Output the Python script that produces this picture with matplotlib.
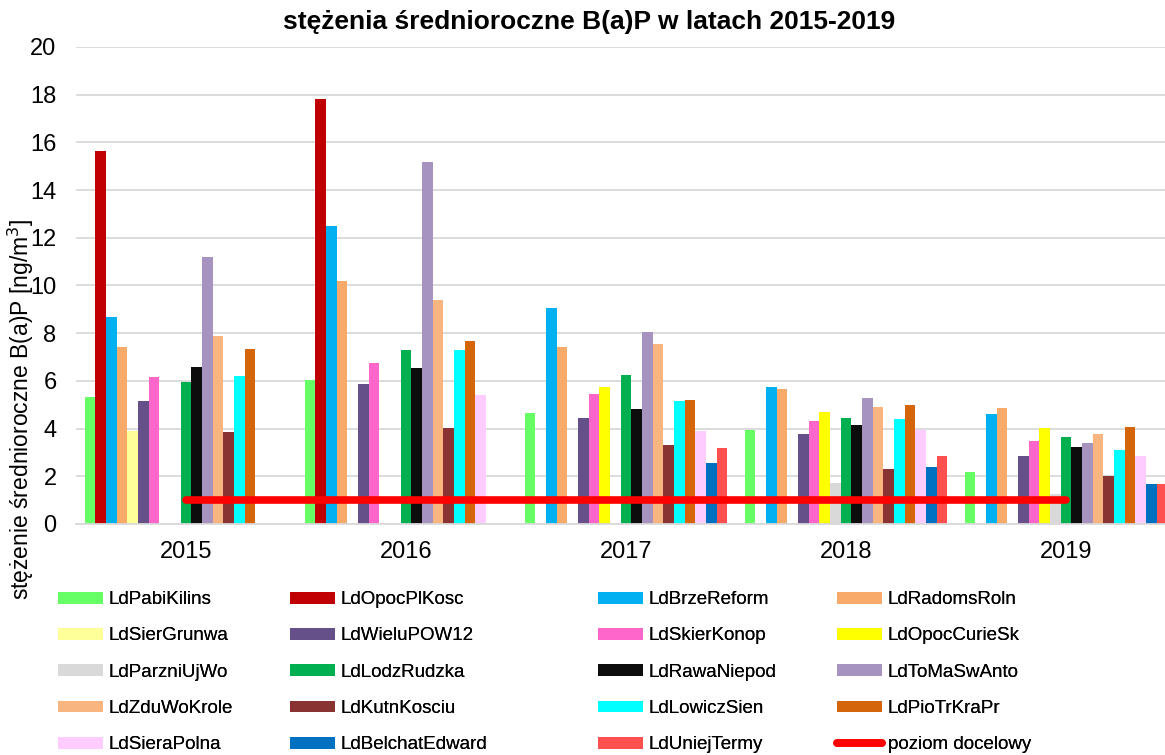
"""Średnioroczne stężenia B(a)P na stacjach województwa łódzkiego, 2015-2019."""

import numpy as np
import matplotlib
matplotlib.use("Agg")
import matplotlib.pyplot as plt
from matplotlib.patches import Patch
from matplotlib.lines import Line2D

nan = np.nan

years = ["2015", "2016", "2017", "2018", "2019"]

stations = [
    "LdPabiKilins", "LdOpocPlKosc", "LdBrzeReform", "LdRadomsRoln",
    "LdSierGrunwa", "LdWieluPOW12", "LdSkierKonop", "LdOpocCurieSk",
    "LdParzniUjWo", "LdLodzRudzka", "LdRawaNiepod", "LdToMaSwAnto",
    "LdZduWoKrole", "LdKutnKosciu", "LdLowiczSien", "LdPioTrKraPr",
    "LdSieraPolna", "LdBelchatEdward", "LdUniejTermy",
]

pabi_kilins = [5.32, 6.04, 4.64, 3.94, 2.17]
opoc_pl_kosc = [15.63, 17.8, nan, nan, nan]
brze_reform = [8.68, 12.51, 9.06, 5.73, 4.60]
radoms_roln = [7.41, 10.17, 7.42, 5.65, 4.86]
sier_grunwa = [3.91, nan, nan, nan, nan]
wielu_pow12 = [5.16, 5.86, 4.46, 3.76, 2.84]
skier_konop = [6.16, 6.74, 5.45, 4.31, 3.48]
opoc_curie_sk = [nan, nan, 5.74, 4.71, 4.01]
parzni_uj_wo = [nan, nan, nan, 1.73, 1.26]
lodz_rudzka = [5.95, 7.28, 6.26, 4.44, 3.65]
rawa_niepod = [6.58, 6.55, 4.82, 4.14, 3.23]
toma_sw_anto = [11.2, 15.19, 8.04, 5.27, 3.41]
zdu_wo_krole = [7.88, 9.39, 7.55, 4.89, 3.77]
kutn_kosciu = [3.84, 4.01, 3.30, 2.32, 2.03]
lowicz_sien = [6.22, 7.31, 5.16, 4.39, 3.10]
pio_tr_kra_pr = [7.35, 7.67, 5.20, 4.99, 4.05]
siera_polna = [nan, 5.41, 3.91, 3.95, 2.86]
belchat_edward = [nan, nan, 2.56, 2.39, 1.68]
uniej_termy = [nan, nan, 3.19, 2.85, 1.68]

target_label = "poziom docelowy"
target = [1, 1, 1, 1, 1]

values = [
    pabi_kilins, opoc_pl_kosc, brze_reform, radoms_roln, sier_grunwa,
    wielu_pow12, skier_konop, opoc_curie_sk, parzni_uj_wo, lodz_rudzka,
    rawa_niepod, toma_sw_anto, zdu_wo_krole, kutn_kosciu, lowicz_sien,
    pio_tr_kra_pr, siera_polna, belchat_edward, uniej_termy,
]

colors = [
    "#66FF66", "#C00000", "#00B0F0", "#F8AA6B", "#FFFF99",
    "#65508A", "#FF66CC", "#FFFF00", "#D9D9D9", "#00B050",
    "#0D0D0D", "#A693BF", "#F9B580", "#8A3333", "#00FFFF",
    "#D5650A", "#FFCCFF", "#0070C0", "#FF5050",
]

plt.rcParams["font.family"] = ["Liberation Sans", "DejaVu Sans"]

fig = plt.figure(figsize=(11.65, 7.55), dpi=100)
ax = fig.add_axes([0.0652, 0.306, 0.9442, 0.6318])

x = np.arange(len(years))
n = len(stations)
bar_w = 0.0485

handles = []
for i, (name, vals, col) in enumerate(zip(stations, values, colors)):
    offset = (i - (n - 1) / 2) * bar_w
    ax.bar(x + offset, vals, width=bar_w, color=col, zorder=2)
    handles.append(Patch(facecolor=col, label=name))

ax.plot(x, target, color="#FF0000", linewidth=5.5, solid_capstyle="round", zorder=3)
handles.append(Line2D([], [], color="#FF0000", linewidth=5.5,
                      solid_capstyle="round", label=target_label))

ax.set_xlim(-0.5, 4.5)
ax.set_ylim(0, 20)
ax.set_yticks(np.arange(0, 21, 2))
ax.set_xticks(x)
ax.set_xticklabels(years)
ax.tick_params(axis="both", length=0, labelsize=17)
ax.tick_params(axis="y", pad=14)
ax.tick_params(axis="x", pad=12)
ax.yaxis.grid(True, color="#D9D9D9", linewidth=1.3)
ax.set_axisbelow(True)
for side in ["top", "right", "left"]:
    ax.spines[side].set_visible(False)
ax.spines["bottom"].set_color("#D9D9D9")
ax.spines["bottom"].set_linewidth(1.3)

fig.text(0.506, 0.971, "stężenia średnioroczne B(a)P w latach 2015-2019",
         ha="center", va="center", fontsize=19, fontweight="bold")
# y label sits low and overlaps the tick labels, as in the original
fig.text(0.018, 1 - 600 / 755, "stężenie średnioroczne B(a)P [ng/m$^3$]",
         rotation=90, ha="center", va="bottom", fontsize=16.5)

# legend: four columns, filled row by row
col_x = [58, 290, 598, 837]
for c in range(4):
    col_handles = handles[c::4]
    leg = fig.legend(handles=col_handles, loc="upper left",
                     bbox_to_anchor=(col_x[c] / 1165, 0.217),
                     frameon=False, fontsize=13.5, borderpad=0, borderaxespad=0,
                     handlelength=2.4, handleheight=0.6, handletextpad=0.3,
                     labelspacing=1.03)
    fig.add_artist(leg)

plt.savefig("out.png", dpi=100)
plt.close(fig)
